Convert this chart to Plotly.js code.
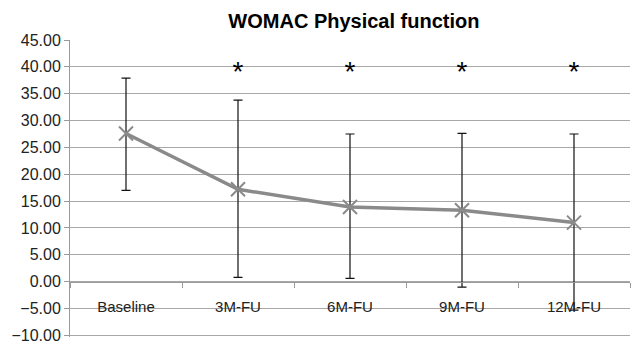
<!DOCTYPE html>
<html>
<head>
<meta charset="utf-8">
<script src="https://cdn.plot.ly/plotly-3.0.1.min.js"></script>
<style>html,body{margin:0;padding:0;background:#fff;}</style>
</head>
<body>
<div id="chart" style="width:632px;height:345px;"></div>
<script>
const categories = ["Baseline", "3M-FU", "6M-FU", "9M-FU", "12M-FU"];
const meanValues = [27.6, 17.2, 13.9, 13.3, 11.0];
const upperValues = [37.9, 33.8, 27.5, 27.6, 27.5];
const lowerValues = [17.0, 0.8, 0.6, -1.0, -5.3];
const sigCategories = ["3M-FU", "6M-FU", "9M-FU", "12M-FU"];
const sigY = [38.6, 38.6, 38.6, 38.6];
const yTickVals = [-10, -5, 0, 5, 10, 15, 20, 25, 30, 35, 40, 45];

const errPlus = upperValues.map((u, i) => u - meanValues[i]);
const errMinus = meanValues.map((m, i) => m - lowerValues[i]);

const gray = "#8a8a8a";
const font = "Liberation Sans, Arial, sans-serif";
const yMin = -10.3, yMax = 45;

const traces = [
  {
    type: "scatter",
    mode: "lines+markers",
    x: categories,
    y: meanValues,
    line: {color: gray, width: 3.5},
    marker: {symbol: "x-thin-open", size: 14, color: gray, line: {color: gray, width: 2}},
    error_y: {
      type: "data", symmetric: false,
      array: errPlus, arrayminus: errMinus,
      color: "#111", thickness: 1.2, width: 4.5
    },
    hoverinfo: "skip",
    cliponaxis: false
  },
  {
    type: "scatter",
    mode: "text",
    x: sigCategories,
    y: sigY,
    text: sigCategories.map(() => "*"),
    textposition: "middle center",
    textfont: {family: font, size: 28, color: "#000"},
    hoverinfo: "skip",
    cliponaxis: false
  }
];

const layout = {
  width: 632, height: 345,
  margin: {l: 70, r: 2, t: 40, b: 8},
  paper_bgcolor: "#fff",
  plot_bgcolor: "#fff",
  showlegend: false,
  title: {
    text: "<b>WOMAC Physical function</b>",
    font: {family: font, size: 20, color: "#000"},
    xref: "paper", x: 0.507, xanchor: "center",
    yref: "container", y: 1 - 21 / 345, yanchor: "middle"
  },
  xaxis: {
    type: "category",
    range: [-0.5, 4.5],
    anchor: "free",
    position: (0 - yMin) / (yMax - yMin),
    showline: true, linecolor: "#9a9a9a", linewidth: 1,
    showgrid: false, zeroline: false,
    ticks: "outside", ticklen: 5, tickcolor: "#9a9a9a", tickson: "boundaries",
    ticklabelstandoff: 11,
    tickfont: {family: font, size: 15, color: "#222"},
    fixedrange: true
  },
  yaxis: {
    range: [yMin, yMax],
    tickvals: yTickVals,
    tickformat: ".2f",
    showgrid: true, gridcolor: "#a8a8a8", gridwidth: 1,
    zeroline: false,
    showline: true, linecolor: "#9a9a9a", linewidth: 1,
    ticks: "outside", ticklen: 5, tickcolor: "#9a9a9a",
    ticklabeloverflow: "allow",
    tickfont: {family: font, size: 16, color: "#222"},
    fixedrange: true
  }
};

Plotly.newPlot("chart", traces, layout, {displayModeBar: false, staticPlot: true});
</script>
</body>
</html>
